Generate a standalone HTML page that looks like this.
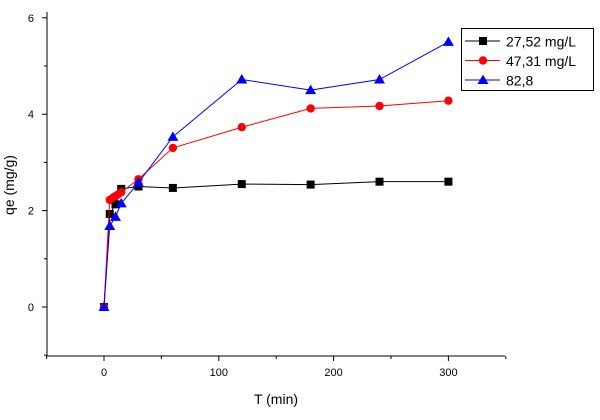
<!DOCTYPE html>
<html><head><meta charset="utf-8"><style>
body{margin:0;background:#fff;}
svg text{font-family:"Liberation Sans",Arial,sans-serif;}
</style></head><body>
<svg id="c" width="600" height="415" xmlns="http://www.w3.org/2000/svg"></svg>
<script>
const xTicks=[0,100,200,300];
const yTicks=[0,2,4,6];
const tBlack=[0,5,10,15,30,60,120,180,240,300];
const qBlack=[0,1.93,2.13,2.45,2.5,2.47,2.55,2.54,2.6,2.6];
const tRed=[0,5,8,10,12,15,30,60,120,180,240,300];
const qRed=[0,2.22,2.27,2.3,2.33,2.38,2.65,3.3,3.73,4.12,4.17,4.28];
const tBlue=[0,5,10,15,30,60,120,180,240,300];
const qBlue=[0,1.68,1.87,2.15,2.58,3.53,4.72,4.5,4.72,5.5];
const seriesNames=["27,52 mg/L","47,31 mg/L","82,8"];

const NS="http://www.w3.org/2000/svg";
const svg=document.getElementById('c');
const X=v=>104+v*1.148;
const Y=v=>307-v*48.2;
function mk(tag,a,p){const e=document.createElementNS(NS,tag);for(const k in a)e.setAttribute(k,a[k]);(p||svg).appendChild(e);return e;}
let ax=mk('line',{x1:47,y1:356,x2:505,y2:356,stroke:'#000'});


ax=mk('line',{x1:47,y1:12,x2:47,y2:356,stroke:'#000'});


for(let v=-50;v<=350;v+=50){const t=mk('line',{x1:X(v),y1:356,x2:X(v),y2:v%100===0?361:359,stroke:'#000'});

}
xTicks.forEach(v=>{const t=mk('text',{x:X(v),y:376,'font-size':11,'text-anchor':'middle'});t.textContent=v;

});
for(let v=-1;v<=6;v+=1){const t=mk('line',{x1:v%2===0?42:44,y1:Y(v),x2:47,y2:Y(v),stroke:'#000'});

}
yTicks.forEach(v=>{const t=mk('text',{x:34,y:Y(v)+4,'font-size':11,'text-anchor':'end'});t.textContent=v;

});
let tt=mk('text',{x:276,y:404,'font-size':14,'text-anchor':'middle'});tt.textContent='T (min)';


tt=mk('text',{x:14,y:185,'font-size':14,'text-anchor':'middle',transform:'rotate(-90 14 185)'});tt.textContent='qe (mg/g)';



function marker(type,x,y,col,g){
 if(type==='s')return mk('rect',{x:x-4,y:y-4,width:8,height:8,fill:col},g);
 if(type==='c')return mk('circle',{cx:x,cy:y,r:4.2,fill:col},g);
 return mk('polygon',{points:`${x},${y-5.5} ${x-5.5},${y+4} ${x+5.5},${y+4}`,fill:col},g);
}
const S=[[tBlack,qBlack,'#000','s','series-27-52'],[tRed,qRed,'#f00','c','series-47-31'],[tBlue,qBlue,'#00f','t','series-82-8']];
S.forEach(([ts,qs,col,type,name])=>{
 const g=mk('g',{});
 
 
 const l=mk('polyline',{points:ts.map((t,i)=>X(t)+','+Y(qs[i])).join(' '),fill:'none',stroke:col,'stroke-width':1},g);
 
 
 ts.forEach((t,i)=>{const m=marker(type,X(t),Y(qs[i]),col,g);
  
  });
});
const lg=mk('g',{});


mk('rect',{x:461.5,y:28.5,width:132,height:62,fill:'#fff',stroke:'#000'},lg);
S.forEach(([ts,qs,col,type,name],i)=>{
 const y=41+i*19.5;
 const e=mk('g',{},lg);
 
 
 mk('line',{x1:465,y1:y,x2:500,y2:y,stroke:col},e);
 marker(type,483,y,col,e);
 const t=mk('text',{x:506,y:y+5.5,'font-size':14},e);t.textContent=seriesNames[i];
});
</script>
</body></html>
